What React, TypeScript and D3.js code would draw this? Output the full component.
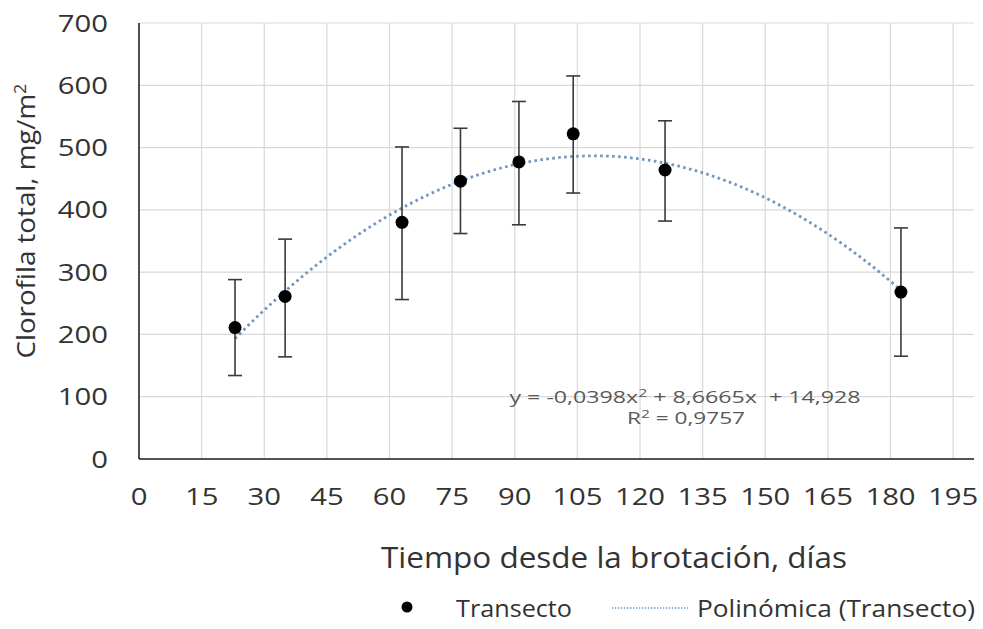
import React from "react";
import * as d3 from "d3";

const days = [23, 35, 63, 77, 91, 104, 126, 182.5];
const values = [211, 261, 380, 446, 477, 522, 464, 268];
const upper = [288, 353, 501, 531, 574, 615, 543, 371];
const lower = [134, 164, 256, 362, 376, 427, 382, 165];
const xTicks = [0, 15, 30, 45, 60, 75, 90, 105, 120, 135, 150, 165, 180, 195];
const yTicks = [0, 100, 200, 300, 400, 500, 600, 700];
const coef = [-0.0398, 8.6665, 14.928];

const W = 983;
const H = 629;
const FONT = "'Open Sans', sans-serif";
const TXT = "#333333";
const FIT = "#7097c0";

export default function App() {
  const x = d3.scaleLinear().domain([0, 200]).range([139, 974]);
  const y = d3.scaleLinear().domain([0, 700]).range([459, 23]);

  const x0 = d3.min(days) as number;
  const x1 = d3.max(days) as number;
  const fitXs = d3.range(x0, x1 + 0.001, (x1 - x0) / 200);
  const fitLine = d3
    .line<number>()
    .x((d) => x(d))
    .y((d) => y(coef[0] * d * d + coef[1] * d + coef[2]))
    .curve(d3.curveLinear);

  const pts = days.map((d, i) => ({ d, v: values[i], hi: upper[i], lo: lower[i] }));

  return (
    <svg
      width={W}
      height={H}
      style={{ position: "absolute", left: 0, top: 0, background: "#fff" }}
      fontFamily={FONT}
    >
      <rect x={0} y={0} width={W} height={H} fill="#fff" />
      {/* gridlines */}
      {yTicks.map((t) => (
        <line key={"hy" + t} x1={x(0)} x2={x(200)} y1={y(t)} y2={y(t)} stroke="#d9d9d9" strokeWidth={1.2} />
      ))}
      {xTicks.filter((t) => t > 0).map((t) => (
        <line key={"vx" + t} x1={x(t)} x2={x(t)} y1={y(0)} y2={y(700)} stroke="#d9d9d9" strokeWidth={1.2} />
      ))}
      {/* axes */}
      <line x1={x(0)} x2={x(0)} y1={y(0)} y2={y(700)} stroke="#222" strokeWidth={1.6} />
      <line x1={x(0)} x2={x(200)} y1={y(0)} y2={y(0)} stroke="#222" strokeWidth={1.6} />

      {/* y tick labels */}
      {yTicks.map((t) => (
        <g key={"yl" + t} transform={`translate(108,${y(t) + 8.5}) scale(1.22,1)`}>
          <text textAnchor="end" fontSize={24} fill={TXT}>
            {t}
          </text>
        </g>
      ))}
      {/* x tick labels */}
      {xTicks.map((t) => (
        <g key={"xl" + t} transform={`translate(${x(t)},505) scale(1.22,1)`}>
          <text textAnchor="middle" fontSize={24} fill={TXT}>
            {t}
          </text>
        </g>
      ))}

      {/* titles */}
      <text
        transform="translate(35,221) rotate(-90)"
        textAnchor="middle"
        fontSize={26}
        fill={TXT}
        textLength={275}
        lengthAdjust="spacingAndGlyphs"
      >
        Clorofila total, mg/m<tspan dy={-9} fontSize={17}>2</tspan>
      </text>
      <text
        x={614}
        y={568}
        textAnchor="middle"
        fontSize={30}
        fill={TXT}
        textLength={466}
        lengthAdjust="spacingAndGlyphs"
      >
        Tiempo desde la brotación, días
      </text>

      {/* trendline */}
      <path d={fitLine(fitXs) || ""} fill="none" stroke={FIT} strokeWidth={2.8} strokeDasharray="2.6 3.4" />

      {/* error bars and points */}
      {pts.map((p, i) => (
        <g key={"p" + i}>
          <line x1={x(p.d)} x2={x(p.d)} y1={y(p.hi)} y2={y(p.lo)} stroke="#3a3a3a" strokeWidth={1.6} />
          <line x1={x(p.d) - 7} x2={x(p.d) + 7} y1={y(p.hi)} y2={y(p.hi)} stroke="#3a3a3a" strokeWidth={1.6} />
          <line x1={x(p.d) - 7} x2={x(p.d) + 7} y1={y(p.lo)} y2={y(p.lo)} stroke="#3a3a3a" strokeWidth={1.6} />
          <circle cx={x(p.d)} cy={y(p.v)} r={6.5} fill="#000" />
        </g>
      ))}

      {/* equation */}
      <text x={685} y={403} textAnchor="middle" fontSize={16} fill="#595959" textLength={351} lengthAdjust="spacingAndGlyphs">
        y = -0,0398x<tspan dy={-6} fontSize={11}>2</tspan>
        <tspan dy={6}>{" + 8,6665x\u00a0 + 14,928"}</tspan>
      </text>
      <text x={686} y={424} textAnchor="middle" fontSize={16} fill="#595959" textLength={118} lengthAdjust="spacingAndGlyphs">
        R<tspan dy={-6} fontSize={11}>2</tspan>
        <tspan dy={6}> = 0,9757</tspan>
      </text>

      {/* legend */}
      <circle cx={407} cy={607} r={5.5} fill="#000" />
      <text x={456} y={617} fontSize={23} fill={TXT} textLength={116} lengthAdjust="spacingAndGlyphs">
        Transecto
      </text>
      <line x1={612} x2={688} y1={608} y2={608} stroke={FIT} strokeWidth={1.4} strokeDasharray="1.4 1.6" />
      <text x={697} y={617} fontSize={23} fill={TXT} textLength={278} lengthAdjust="spacingAndGlyphs">
        Polinómica (Transecto)
      </text>
    </svg>
  );
}
